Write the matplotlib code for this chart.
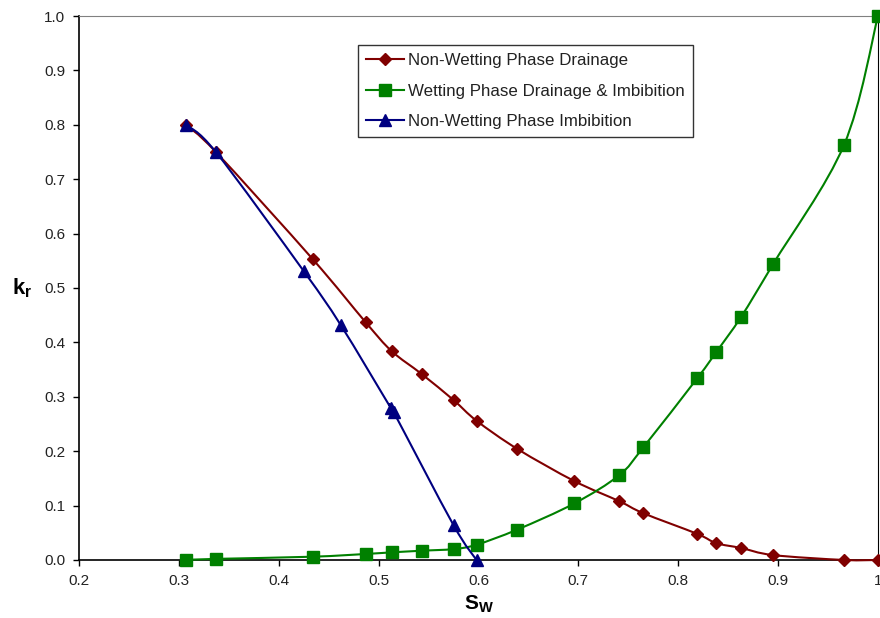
import matplotlib
matplotlib.use("Agg")
import matplotlib.pyplot as plt
from matplotlib.path import Path
from matplotlib.patches import PathPatch
from matplotlib.lines import Line2D

plt.rcParams["font.family"] = ["Liberation Sans", "DejaVu Sans"]
plt.rcParams["mathtext.fontset"] = "custom"
plt.rcParams["mathtext.rm"] = "Liberation Sans"
plt.rcParams["mathtext.bf"] = "Liberation Sans:bold"

# non-wetting phase drainage
sw_nw_drain = [0.307, 0.337, 0.434, 0.487, 0.513, 0.543, 0.575, 0.598, 0.639,
               0.696, 0.741, 0.765, 0.819, 0.838, 0.863, 0.895, 0.966, 1.0]
kr_nw_drain = [0.800, 0.750, 0.553, 0.437, 0.384, 0.342, 0.294, 0.256, 0.204,
               0.145, 0.108, 0.086, 0.048, 0.031, 0.022, 0.009, 0.0, 0.0]

# wetting phase drainage & imbibition
sw_w = [0.307, 0.337, 0.434, 0.487, 0.513, 0.543, 0.575, 0.598, 0.639,
        0.696, 0.741, 0.765, 0.819, 0.838, 0.863, 0.895, 0.966, 1.0]
kr_w = [0.0, 0.002, 0.006, 0.011, 0.014, 0.017, 0.020, 0.028, 0.056,
        0.104, 0.156, 0.207, 0.334, 0.382, 0.447, 0.544, 0.763, 1.0]

# non-wetting phase imbibition
sw_nw_imb = [0.307, 0.337, 0.425, 0.462, 0.512, 0.515, 0.575, 0.598]
kr_nw_imb = [0.800, 0.750, 0.531, 0.432, 0.280, 0.272, 0.064, 0.0]

xticks = [0.2, 0.3, 0.4, 0.5, 0.6, 0.7, 0.8, 0.9, 1.0]
xtick_labels = ["0.2", "0.3", "0.4", "0.5", "0.6", "0.7", "0.8", "0.9", "1"]
yticks = [0.0, 0.1, 0.2, 0.3, 0.4, 0.5, 0.6, 0.7, 0.8, 0.9, 1.0]


def smooth_path(xs, ys):
    # excel-like smoothed line: catmull-rom as cubic bezier segments
    pts = list(zip(xs, ys))
    verts = [pts[0]]
    codes = [Path.MOVETO]
    n = len(pts)
    for i in range(n - 1):
        p0 = pts[i - 1] if i > 0 else pts[i]
        p1 = pts[i]
        p2 = pts[i + 1]
        p3 = pts[i + 2] if i + 2 < n else pts[i + 1]
        c1 = (p1[0] + (p2[0] - p0[0]) / 6, p1[1] + (p2[1] - p0[1]) / 6)
        c2 = (p2[0] - (p3[0] - p1[0]) / 6, p2[1] - (p3[1] - p1[1]) / 6)
        verts += [c1, c2, p2]
        codes += [Path.CURVE4] * 3
    return Path(verts, codes)


fig = plt.figure(figsize=(8.8, 6.18), dpi=100)
ax = fig.add_axes([0.0898, 0.0939, 0.9079, 0.8802])

series = [
    (sw_nw_drain, kr_nw_drain, "#800000", "D", 6.5, "Non-Wetting Phase Drainage", 3),
    (sw_w, kr_w, "#008000", "s", 8.5, "Wetting Phase Drainage & Imbibition", 4),
    (sw_nw_imb, kr_nw_imb, "#000080", "^", 8.5, "Non-Wetting Phase Imbibition", 5),
]
handles = []
for xs, ys, col, mk, ms, lab, z in series:
    ax.add_patch(PathPatch(smooth_path(xs, ys), facecolor="none", edgecolor=col,
                           linewidth=1.5, clip_on=False, zorder=z))
    ax.plot(xs, ys, linestyle="none", marker=mk, markersize=ms, color=col,
            clip_on=False, zorder=z)
    handles.append(Line2D([], [], color=col, marker=mk, markersize=ms,
                          linewidth=1.5, label=lab))

ax.set_xlim(0.2, 1.0)
ax.set_ylim(0.0, 1.0)
ax.set_xticks(xticks)
ax.set_xticklabels(xtick_labels)
ax.set_yticks(yticks)
ax.set_yticklabels([f"{v:.1f}" for v in yticks])
ax.tick_params(direction="out", length=4, width=1, labelsize=11,
               labelcolor="#222222", pad=6)

for side in ["left", "bottom"]:
    ax.spines[side].set_color("black")
    ax.spines[side].set_linewidth(1.2)
ax.spines["right"].set_color("black")
ax.spines["top"].set_color("#808080")

ax.set_xlabel(r"$\mathbf{S_W}$", fontsize=15, labelpad=4)
ax.set_ylabel(r"$\mathbf{k_r}$", fontsize=16, rotation=0, labelpad=16, va="center")

leg = ax.legend(handles=handles, loc="upper left", bbox_to_anchor=(0.349, 0.947),
                fontsize=12.2, numpoints=1, handlelength=2.2, labelspacing=0.9,
                fancybox=False, framealpha=1, edgecolor="#333333", borderpad=0.5,
                handletextpad=0.25, borderaxespad=0)
leg.get_frame().set_linewidth(1)
for t in leg.get_texts():
    t.set_color("#222222")

fig.savefig("out.png", dpi=100)
